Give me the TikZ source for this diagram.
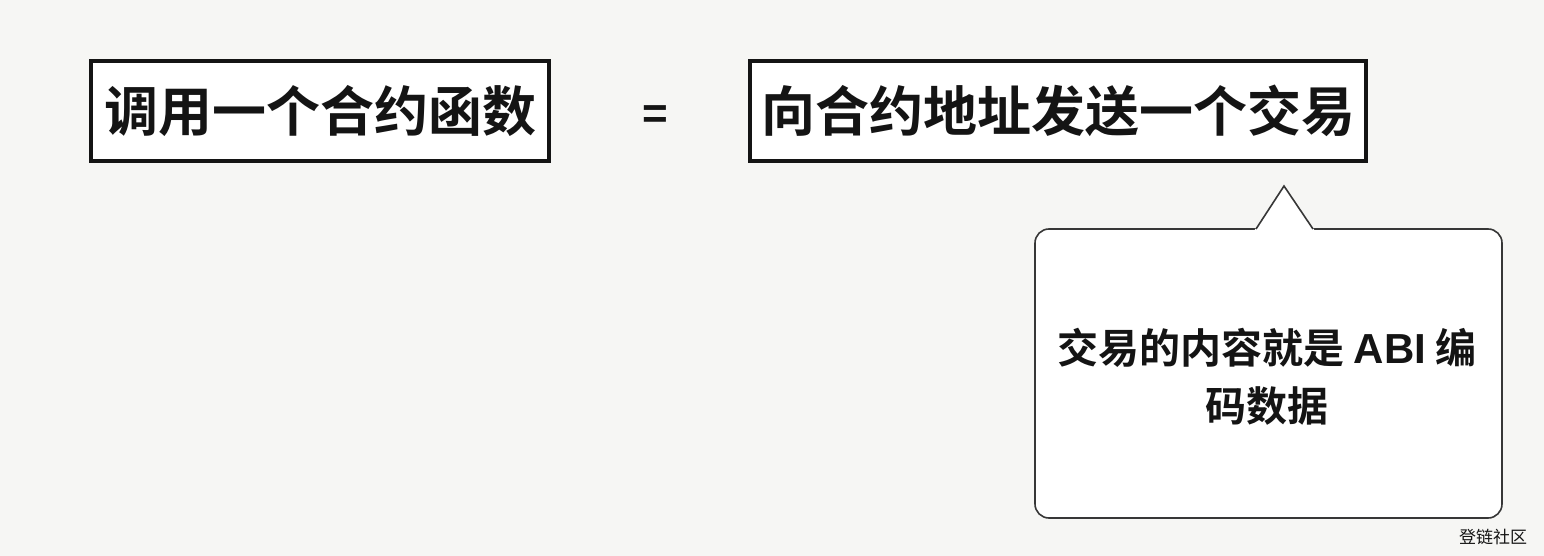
\documentclass[tikz,border=0pt]{standalone}
\usepackage{fontspec}
\newfontfamily\cjk{Noto Sans CJK SC}
\newfontfamily\cjkb{Noto Sans CJK SC Bold}
\newfontfamily\latb{Liberation Sans Bold}
\definecolor{bg}{HTML}{F6F6F4}
\definecolor{ink}{HTML}{141414}
\tikzset{
  x=1pt,y=-1pt,
  roughbox/.style={draw=ink,line width=3.5pt,fill=white,inner sep=0pt,minimum height=100pt,font=\cjkb\fontsize{54}{60}\selectfont,text=ink},
  callout/.style={draw=ink!85,line width=1.6pt,fill=white},
  calltext/.style={font=\cjkb\fontsize{41}{58}\selectfont,align=center,text=ink},
}
\begin{document}
\begin{tikzpicture}
\fill[bg] (0,0) rectangle (1544,556);
\useasboundingbox (0,0) rectangle (1544,556);
\node[roughbox,minimum width=458pt] (call) at (320,111) {\raisebox{-4pt}{调用一个合约函数}};
\node[font=\latb\fontsize{44}{48}\selectfont,text=ink] (eq) at (655,117) {=};
\node[roughbox,minimum width=616pt] (send) at (1058,111) {\raisebox{-4pt}{向合约地址发送一个交易}};
\coordinate (tip) at (1284,186);
\coordinate (bl) at (1256,229);
\coordinate (br) at (1313,229);
\draw[callout,rounded corners=14pt] (1035,229) rectangle (1502,518);
\fill[white] (1254,231) -- (tip) -- (1315,231) -- cycle;
\draw[callout,fill=none,line join=miter] (bl) -- (tip) -- (br);
\node[calltext] (abi) at (1267,377) {交易的内容就是 {\latb\fontsize{42}{58}\selectfont ABI} 编\\码数据};
\node[font=\cjk\fontsize{17}{20}\selectfont,text=ink] (wm) at (1493,537) {登链社区};
\end{tikzpicture}
\end{document}
